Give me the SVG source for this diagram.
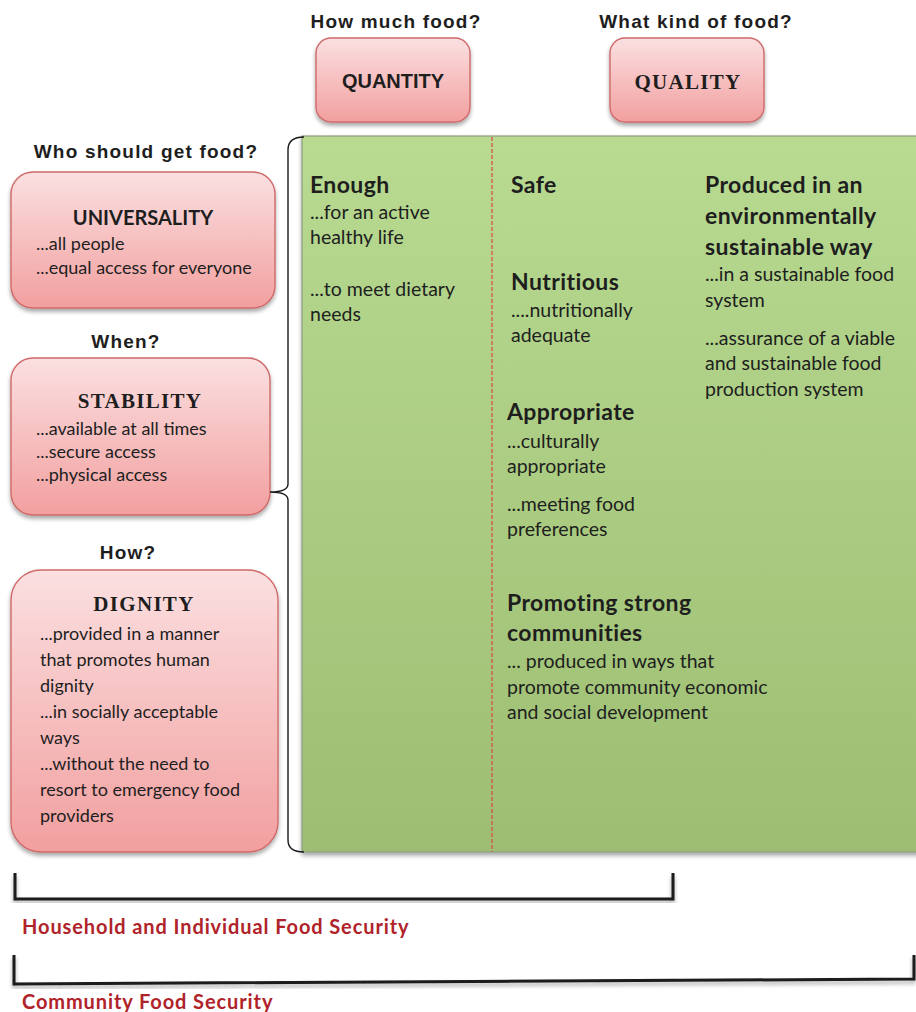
<svg xmlns="http://www.w3.org/2000/svg" width="916" height="1012" viewBox="0 0 916 1012">
  <defs>
    <linearGradient id="pinkFill" x1="0" y1="0" x2="0" y2="1">
      <stop offset="0" stop-color="#fbe0e1"/>
      <stop offset="1" stop-color="#f29f9f"/>
    </linearGradient>
    <linearGradient id="greenFill" x1="0" y1="0" x2="0" y2="1">
      <stop offset="0" stop-color="#b8da91"/>
      <stop offset="1" stop-color="#9dbe72"/>
    </linearGradient>
    <filter id="shadow" x="-10%" y="-10%" width="120%" height="125%">
      <feGaussianBlur in="SourceAlpha" stdDeviation="2.2"/>
      <feOffset dx="0" dy="3" result="b"/>
      <feComponentTransfer><feFuncA type="linear" slope="0.35"/></feComponentTransfer>
      <feMerge><feMergeNode/><feMergeNode in="SourceGraphic"/></feMerge>
    </filter>
    <style>
      .box { fill: url(#pinkFill); stroke: #cf6a6a; stroke-width: 1.4; }
      .q { font-family: "Liberation Sans", Arial, sans-serif; font-weight: bold; font-size: 19px; letter-spacing: 1.2px; fill: #1e1e1e; text-anchor: middle; }
      .serif { font-family: "Liberation Serif", "Times New Roman", serif; font-weight: bold; font-size: 21px; letter-spacing: 1.3px; fill: #1e1e1e; text-anchor: middle; }
      .sansT { font-family: "Liberation Sans", Arial, sans-serif; font-weight: bold; font-size: 20px; fill: #1e1e1e; text-anchor: middle; }
      .head { font-family: Lato, "Open Sans", sans-serif; font-weight: bold; font-size: 23px; letter-spacing: 0.4px; fill: #1e1e1e; }
      .body { font-family: Lato, "Open Sans", sans-serif; font-size: 19.5px; fill: #1e1e1e; }
      .sbody { font-family: Lato, "Open Sans", sans-serif; font-size: 18px; fill: #1e1e1e; }
      .boxT { font-family: Lato, "Open Sans", sans-serif; font-weight: bold; font-size: 20px; fill: #1e1e1e; text-anchor: middle; }
      .red { font-family: Lato, "Open Sans", sans-serif; font-weight: bold; font-size: 20px; letter-spacing: 0.9px; fill: #b0232a; }
      .brk { fill: none; stroke: #1a1a1a; stroke-width: 3; }
    </style>
  </defs>

  <rect width="916" height="1012" fill="#ffffff"/>

  <!-- green panel of the food-security attributes -->
  <g id="panel">
    <rect x="302" y="136" width="620" height="716" fill="url(#greenFill)" stroke="#8d9c80" stroke-width="1.2" filter="url(#shadow)"/>
    <line x1="492" y1="137" x2="492" y2="852" stroke="#e0463e" stroke-width="1.2" stroke-dasharray="4 2"/>
  </g>

  <!-- column headings -->
  <g id="quantity">
    <text class="q" x="396" y="28">How much food?</text>
    <rect class="box" x="316" y="38" width="154" height="84" rx="15" filter="url(#shadow)"/>
    <text class="sansT" x="393" y="88">QUANTITY</text>
  </g>
  <g id="quality">
    <text class="q" x="696" y="28">What kind of food?</text>
    <rect class="box" x="610" y="38" width="154" height="84" rx="15" filter="url(#shadow)"/>
    <text class="serif" x="688" y="89">QUALITY</text>
  </g>

  <!-- left side boxes -->
  <g id="universality">
    <text class="q" x="146" y="158">Who should get food?</text>
    <rect class="box" x="11" y="172" width="264" height="136" rx="22" filter="url(#shadow)"/>
    <text class="boxT" x="143" y="225">UNIVERSALITY</text>
    <text class="sbody" x="36" y="250">...all people</text>
    <text class="sbody" x="36" y="274">...equal access for everyone</text>
  </g>
  <g id="stability">
    <text class="q" x="126" y="348">When?</text>
    <rect class="box" x="11" y="358" width="259" height="157" rx="22" filter="url(#shadow)"/>
    <text class="serif" x="140" y="408">STABILITY</text>
    <text class="sbody" x="36" y="435">...available at all times</text>
    <text class="sbody" x="36" y="458">...secure access</text>
    <text class="sbody" x="36" y="481">...physical access</text>
  </g>
  <g id="dignity">
    <text class="q" x="128" y="559">How?</text>
    <rect class="box" x="11" y="570" width="267" height="282" rx="30" filter="url(#shadow)"/>
    <text class="serif" x="144" y="611">DIGNITY</text>
    <text class="sbody" x="40" y="640">...provided in a manner</text>
    <text class="sbody" x="40" y="666">that promotes human</text>
    <text class="sbody" x="40" y="692">dignity</text>
    <text class="sbody" x="40" y="718">...in socially acceptable</text>
    <text class="sbody" x="40" y="744">ways</text>
    <text class="sbody" x="40" y="770">...without the need to</text>
    <text class="sbody" x="40" y="796">resort to emergency food</text>
    <text class="sbody" x="40" y="822">providers</text>
  </g>

  <!-- attribute texts inside the panel -->
  <g id="enough">
    <text class="head" x="310" y="193">Enough</text>
    <text class="body" x="310" y="219">...for an active</text>
    <text class="body" x="310" y="244">healthy life</text>
    <text class="body" x="310" y="296">...to meet dietary</text>
    <text class="body" x="310" y="321">needs</text>
  </g>
  <g id="safe">
    <text class="head" x="511" y="193">Safe</text>
  </g>
  <g id="nutritious">
    <text class="head" x="511" y="290">Nutritious</text>
    <text class="body" x="511" y="317">....nutritionally</text>
    <text class="body" x="511" y="342">adequate</text>
  </g>
  <g id="sustainable">
    <text class="head" x="705" y="193">Produced in an</text>
    <text class="head" x="705" y="224">environmentally</text>
    <text class="head" x="705" y="255">sustainable way</text>
    <text class="body" x="705" y="281">...in a sustainable food</text>
    <text class="body" x="705" y="307">system</text>
    <text class="body" x="705" y="345">...assurance of a viable</text>
    <text class="body" x="705" y="370">and sustainable food</text>
    <text class="body" x="705" y="396">production system</text>
  </g>
  <g id="appropriate">
    <text class="head" x="507" y="420">Appropriate</text>
    <text class="body" x="507" y="448">...culturally</text>
    <text class="body" x="507" y="473">appropriate</text>
    <text class="body" x="507" y="511">...meeting food</text>
    <text class="body" x="507" y="536">preferences</text>
  </g>
  <g id="communities">
    <text class="head" x="507" y="611">Promoting strong</text>
    <text class="head" x="507" y="641">communities</text>
    <text class="body" x="507" y="668">... produced in ways that</text>
    <text class="body" x="507" y="694">promote community economic</text>
    <text class="body" x="507" y="719">and social development</text>
  </g>

  <!-- brace and scope brackets -->
  <g id="connectors">
    <path d="M304 137 Q288 137 288 150 L288 484 Q288 492 270 492 Q288 492 288 500 L288 840 Q288 852 304 852" fill="none" stroke="#1a1a1a" stroke-width="1.4"/>
    <path class="brk" d="M15 873 L15 899 L673 899 L673 873" filter="url(#shadow)"/>
    <path class="brk" d="M14 955 L14 984 L914 979 L914 955" filter="url(#shadow)"/>
  </g>

  <g id="scope-labels">
    <text class="red" x="22" y="934">Household and Individual Food Security</text>
    <text class="red" x="22" y="1009">Community Food Security</text>
  </g>
</svg>
